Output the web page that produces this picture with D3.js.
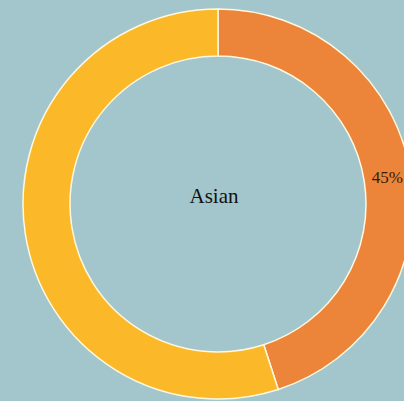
<!DOCTYPE html>
<html>
<head>
<meta charset="utf-8">
<script src="https://cdn.jsdelivr.net/npm/d3@7"></script>
<style>
  html, body { margin: 0; padding: 0; background: #a3c6cc; }
  svg { display: block; }
</style>
</head>
<body>
<svg id="chart" width="404" height="401"></svg>
<script>
// Ring segments, clockwise from 12 o'clock
const labels = ["Asian", "Other"];
const values = [45, 55];
const colors = ["#ec8439", "#fbb829"];
const centerTitle = "Asian";

const svg = d3.select("#chart");
const cx = 218, cy = 204;
const outerR = 195, innerR = 148;

const g = svg.append("g").attr("transform", `translate(${cx},${cy})`);

const pie = d3.pie().sort(null).value(d => d);
const arcs = pie(values);

const arc = d3.arc().innerRadius(innerR).outerRadius(outerR);
const labelArc = d3.arc().innerRadius(innerR).outerRadius(outerR);

g.selectAll("path.slice")
  .data(arcs)
  .join("path")
  .attr("class", "slice")
  .attr("d", arc)
  .attr("fill", (d, i) => colors[i])
  .attr("stroke", "#fff8e0")
  .attr("stroke-width", 1.5);

// Percentage label only on the highlighted segment
const total = d3.sum(values);
g.append("text")
  .datum(arcs[0])
  .attr("transform", d => `translate(${labelArc.centroid(d)})`)
  .attr("text-anchor", "middle")
  .attr("dy", "0.35em")
  .attr("font-family", "'Liberation Serif', 'Times New Roman', serif")
  .attr("font-size", 17)
  .attr("fill", "#3a1a08")
  .text(d => Math.round(d.data / total * 100) + "%");

g.append("text")
  .attr("x", -4)
  .attr("y", -8)
  .attr("text-anchor", "middle")
  .attr("dy", "0.35em")
  .attr("font-family", "'Liberation Serif', 'Times New Roman', serif")
  .attr("font-size", 21)
  .attr("fill", "#111")
  .text(centerTitle);
</script>
</body>
</html>
